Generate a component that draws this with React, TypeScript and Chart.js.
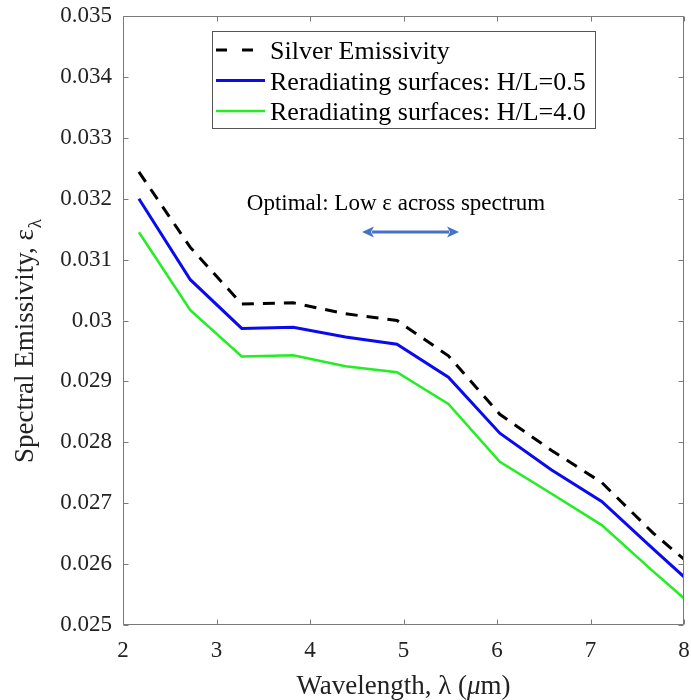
import React, { useEffect, useRef } from "react";
import { Chart, registerables } from "chart.js";

Chart.register(...registerables);

// ---- data ----
const WAVELENGTH = [2.17, 2.72, 3.27, 3.82, 4.38, 4.93, 5.48, 6.03, 6.58, 7.12, 7.67, 8.0];
const SILVER = [0.03244, 0.0312, 0.03027, 0.03029, 0.03011, 0.03, 0.02942, 0.02846, 0.02787, 0.02734, 0.02651, 0.02608];
const HL_05 = [0.032, 0.03067, 0.02987, 0.02989, 0.02973, 0.02961, 0.02907, 0.02815, 0.02755, 0.02703, 0.02625, 0.02579];
const HL_40 = [0.03145, 0.03017, 0.02941, 0.02943, 0.02925, 0.02915, 0.02863, 0.02768, 0.02716, 0.02664, 0.02588, 0.02544];

const SERIES_LABELS = ["Silver Emissivity", "Reradiating surfaces: H/L=0.5", "Reradiating surfaces: H/L=4.0"];
const X_TICKS = [2, 3, 4, 5, 6, 7, 8];
const Y_TICKS = [0.025, 0.026, 0.027, 0.028, 0.029, 0.03, 0.031, 0.032, 0.033, 0.034, 0.035];

const ANNOTATION_TEXT = "Optimal: Low ε across spectrum";
const ANNOTATION_AT = [4.92, 0.031814];
const ARROW_X = [4.556, 5.594];
const ARROW_Y = 0.031453;

const X_TITLE_PARTS = ["Wavelength, λ (", "μ", "m)"];
const Y_TITLE_MAIN = "Spectral Emissivity, ε";
const Y_TITLE_SUB = "λ";

const SERIF = '"Liberation Serif", "Times New Roman", serif';

const framePlugin = {
  id: "frame",
  afterDraw(chart: any) {
    const { ctx, chartArea } = chart;
    const { left, right, top, bottom } = chartArea;
    const xs = chart.scales.x;
    const ys = chart.scales.y;
    ctx.save();

    // box + inward ticks
    ctx.strokeStyle = "#7a7a7a";
    ctx.lineWidth = 1;
    const L = Math.round(left) + 0.5;
    const R = Math.round(right) - 0.5;
    const T = Math.round(top) + 0.5;
    const B = Math.round(bottom) - 0.5;
    ctx.beginPath();
    ctx.rect(L, T, R - L, B - T);
    const tl = 5;
    X_TICKS.forEach((v) => {
      const p = Math.round(xs.getPixelForValue(v)) + 0.5;
      ctx.moveTo(p, B);
      ctx.lineTo(p, B - tl);
      ctx.moveTo(p, T);
      ctx.lineTo(p, T + tl);
    });
    Y_TICKS.forEach((v) => {
      const p = Math.round(ys.getPixelForValue(v)) + 0.5;
      ctx.moveTo(L, p);
      ctx.lineTo(L + tl, p);
      ctx.moveTo(R, p);
      ctx.lineTo(R - tl, p);
    });
    ctx.stroke();

    // legend
    ctx.font = `26px ${SERIF}`;
    const textX = 270;
    let maxW = 0;
    SERIES_LABELS.forEach((s) => (maxW = Math.max(maxW, ctx.measureText(s).width)));
    const boxL = 212.5;
    const boxT = 31.5;
    const boxR = Math.round(textX + maxW + 9) + 0.5;
    const boxB = 128.5;
    ctx.fillStyle = "#ffffff";
    ctx.fillRect(boxL, boxT, boxR - boxL, boxB - boxT);
    ctx.strokeStyle = "#555555";
    ctx.lineWidth = 1;
    ctx.strokeRect(boxL, boxT, boxR - boxL, boxB - boxT);

    const rows = [
      { lineY: 50, baseY: 58.5, color: "#000000", width: 3, dash: [11, 15] },
      { lineY: 80.5, baseY: 89.5, color: "#0a0aee", width: 3, dash: [] },
      { lineY: 111, baseY: 120, color: "#22ee22", width: 2.5, dash: [] },
    ];
    rows.forEach((r, i) => {
      ctx.beginPath();
      ctx.setLineDash(r.dash);
      ctx.strokeStyle = r.color;
      ctx.lineWidth = r.width;
      ctx.moveTo(216, r.lineY);
      ctx.lineTo(265, r.lineY);
      ctx.stroke();
      ctx.setLineDash([]);
      ctx.fillStyle = "#000000";
      ctx.textAlign = "left";
      ctx.textBaseline = "alphabetic";
      ctx.fillText(SERIES_LABELS[i], textX, r.baseY);
    });

    // annotation text
    ctx.font = `23px ${SERIF}`;
    ctx.fillStyle = "#000000";
    ctx.textAlign = "center";
    ctx.textBaseline = "alphabetic";
    ctx.fillText(ANNOTATION_TEXT, xs.getPixelForValue(ANNOTATION_AT[0]), ys.getPixelForValue(ANNOTATION_AT[1]));

    // double arrow
    const ax1 = xs.getPixelForValue(ARROW_X[0]);
    const ax2 = xs.getPixelForValue(ARROW_X[1]);
    const ay = ys.getPixelForValue(ARROW_Y);
    const hl = 12;
    const hw = 5.5;
    ctx.strokeStyle = "#4472c4";
    ctx.fillStyle = "#4472c4";
    ctx.lineWidth = 3;
    ctx.beginPath();
    ctx.moveTo(ax1 + hl - 2, ay);
    ctx.lineTo(ax2 - hl + 2, ay);
    ctx.stroke();
    ctx.beginPath();
    ctx.moveTo(ax1, ay);
    ctx.lineTo(ax1 + hl, ay - hw);
    ctx.lineTo(ax1 + hl - 3, ay);
    ctx.lineTo(ax1 + hl, ay + hw);
    ctx.closePath();
    ctx.fill();
    ctx.beginPath();
    ctx.moveTo(ax2, ay);
    ctx.lineTo(ax2 - hl, ay - hw);
    ctx.lineTo(ax2 - hl + 3, ay);
    ctx.lineTo(ax2 - hl, ay + hw);
    ctx.closePath();
    ctx.fill();

    // x axis title
    ctx.fillStyle = "#222222";
    ctx.textAlign = "left";
    ctx.textBaseline = "alphabetic";
    const fN = `27px ${SERIF}`;
    const fI = `italic 27px ${SERIF}`;
    const fonts = [fN, fI, fN];
    let total = 0;
    const widths = X_TITLE_PARTS.map((p, i) => {
      ctx.font = fonts[i];
      const w = ctx.measureText(p).width;
      total += w;
      return w;
    });
    let cx = (left + right) / 2 - total / 2;
    X_TITLE_PARTS.forEach((p, i) => {
      ctx.font = fonts[i];
      ctx.fillText(p, cx, 694);
      cx += widths[i];
    });

    // y axis title (rotated)
    ctx.save();
    ctx.translate(33, 463);
    ctx.rotate(-Math.PI / 2);
    ctx.font = fN;
    ctx.fillText(Y_TITLE_MAIN, 0, 0);
    const wm = ctx.measureText(Y_TITLE_MAIN).width;
    ctx.font = `19px ${SERIF}`;
    ctx.fillText(Y_TITLE_SUB, wm + 1, 8);
    ctx.restore();

    ctx.restore();
  },
};

export default function App() {
  const ref = useRef<HTMLCanvasElement | null>(null);

  useEffect(() => {
    if (!ref.current) return;
    const toPts = (ys: number[]) => WAVELENGTH.map((x, i) => ({ x, y: ys[i] }));
    const tickFont = { family: SERIF, size: 23 };
    const chart = new Chart(ref.current, {
      type: "line",
      data: {
        datasets: [
          {
            label: SERIES_LABELS[0],
            data: toPts(SILVER),
            borderColor: "#000000",
            borderWidth: 3,
            borderDash: [12, 9],
            pointRadius: 0,
            fill: false,
            tension: 0,
          },
          {
            label: SERIES_LABELS[1],
            data: toPts(HL_05),
            borderColor: "#0a0aee",
            borderWidth: 3,
            pointRadius: 0,
            fill: false,
            tension: 0,
          },
          {
            label: SERIES_LABELS[2],
            data: toPts(HL_40),
            borderColor: "#22ee22",
            borderWidth: 2.5,
            pointRadius: 0,
            fill: false,
            tension: 0,
          },
        ],
      },
      options: {
        responsive: false,
        animation: false,
        devicePixelRatio: 1,
        layout: { padding: { top: 16, right: 7, left: 0, bottom: 0 } },
        plugins: {
          legend: { display: false },
          tooltip: { enabled: false },
          title: { display: false },
        },
        scales: {
          x: {
            type: "linear",
            min: 2,
            max: 8,
            afterBuildTicks: (s: any) => {
              s.ticks = X_TICKS.map((v) => ({ value: v }));
            },
            afterFit: (s: any) => {
              s.height = 75;
              s.paddingLeft = 0;
              s.paddingRight = 0;
            },
            grid: { display: false, drawTicks: false },
            border: { display: false },
            ticks: {
              padding: 12,
              font: tickFont,
              color: "#222222",
              maxRotation: 0,
              autoSkip: false,
              callback: (v: any) => String(v),
            },
          },
          y: {
            type: "linear",
            min: 0.025,
            max: 0.035,
            afterBuildTicks: (s: any) => {
              s.ticks = Y_TICKS.map((v) => ({ value: v }));
            },
            afterFit: (s: any) => {
              s.width = 123;
              s.paddingTop = 0;
              s.paddingBottom = 0;
            },
            grid: { display: false, drawTicks: false },
            border: { display: false },
            ticks: {
              padding: 11,
              font: tickFont,
              color: "#222222",
              autoSkip: false,
              callback: (v: any) => String(Number(Number(v).toFixed(3))),
            },
          },
        },
      },
      plugins: [framePlugin],
    });
    return () => chart.destroy();
  }, []);

  return (
    <div style={{ position: "fixed", left: 0, top: 0, width: 691, height: 700, background: "#ffffff" }}>
      <canvas ref={ref} width={691} height={700} style={{ display: "block", width: 691, height: 700 }} />
    </div>
  );
}
